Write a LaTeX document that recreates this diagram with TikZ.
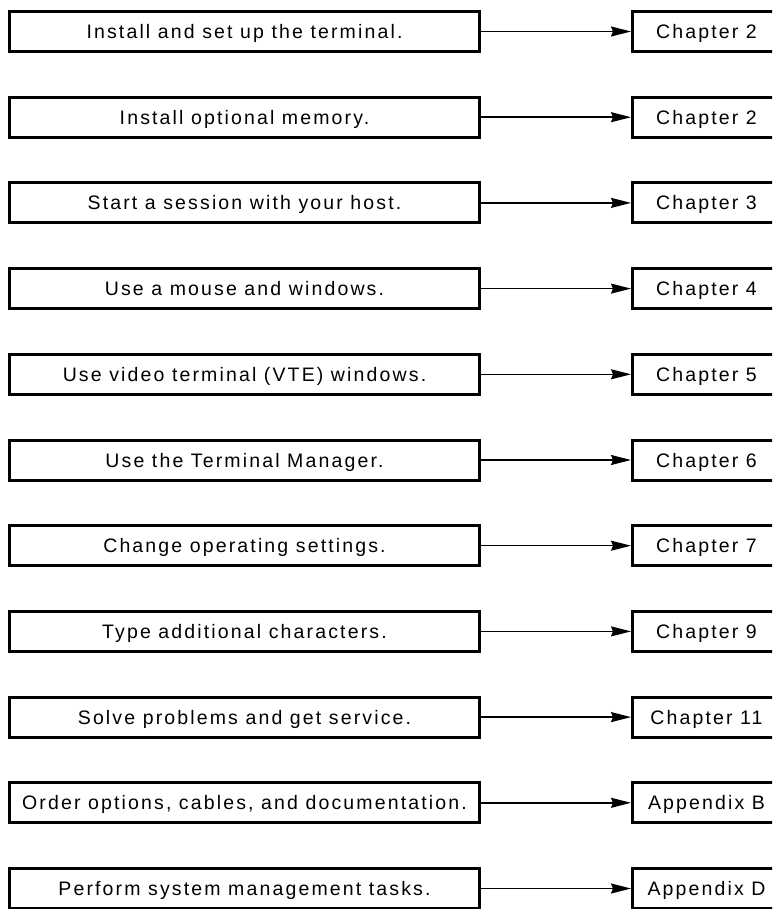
\documentclass[tikz,border=0pt]{standalone}
\usepackage{fontspec}
\setmainfont[LetterSpace=11]{Liberation Sans}
\usetikzlibrary{arrows.meta}
\tikzset{
    taskbox/.style={draw, line width=3pt, minimum width=470pt, minimum height=40pt, inner sep=0pt, text height=14pt, text depth=0pt, font=\fontsize{19.5}{22}\selectfont},
    refbox/.style={draw, line width=3pt, minimum width=148pt, minimum height=40pt, inner sep=0pt, text height=14pt, text depth=0pt, font=\fontsize{19.5}{22}\selectfont},
    pointer/.style={line width=1.5pt, -{Stealth[length=20pt,width=10pt,inset=2pt]}}
}
\begin{document}
\begin{tikzpicture}[x=1pt,y=-1pt]
                \useasboundingbox (0,0) rectangle (772,909);
                \clip (0,0) rectangle (772,909);
                \node[taskbox] (t1) at (244.5,31.5) {Install and set up the terminal.};
                \node[taskbox] (t2) at (244.5,117.2) {Install optional memory.};
                \node[taskbox] (t3) at (244.5,202.9) {Start a session with your host.};
                \node[taskbox] (t4) at (244.5,288.6) {Use a mouse and windows.};
                \node[taskbox] (t5) at (244.5,374.3) {Use video terminal (VTE) windows.};
                \node[taskbox] (t6) at (244.5,460.0) {Use the Terminal Manager.};
                \node[taskbox] (t7) at (244.5,545.7) {Change operating settings.};
                \node[taskbox] (t8) at (244.5,631.4) {Type additional characters.};
                \node[taskbox] (t9) at (244.5,717.1) {Solve problems and get service.};
                \node[taskbox] (t10) at (244.5,802.8) {Order options, cables, and documentation.};
                \node[taskbox] (t11) at (244.5,888.5) {Perform system management tasks.};
                \node[refbox] (c1) at (706.5,31.5) {Chapter 2};
                \node[refbox] (c2) at (706.5,117.2) {Chapter 2};
                \node[refbox] (c3) at (706.5,202.9) {Chapter 3};
                \node[refbox] (c4) at (706.5,288.6) {Chapter 4};
                \node[refbox] (c5) at (706.5,374.3) {Chapter 5};
                \node[refbox] (c6) at (706.5,460.0) {Chapter 6};
                \node[refbox] (c7) at (706.5,545.7) {Chapter 7};
                \node[refbox] (c8) at (706.5,631.4) {Chapter 9};
                \node[refbox] (c9) at (706.5,717.1) {Chapter 11};
                \node[refbox] (c10) at (706.5,802.8) {Appendix B};
                \node[refbox] (c11) at (706.5,888.5) {Appendix D};
                \draw[pointer] (t1) -- (c1);
                \draw[pointer] (t2) -- (c2);
                \draw[pointer] (t3) -- (c3);
                \draw[pointer] (t4) -- (c4);
                \draw[pointer] (t5) -- (c5);
                \draw[pointer] (t6) -- (c6);
                \draw[pointer] (t7) -- (c7);
                \draw[pointer] (t8) -- (c8);
                \draw[pointer] (t9) -- (c9);
                \draw[pointer] (t10) -- (c10);
                \draw[pointer] (t11) -- (c11);
\end{tikzpicture}
\end{document}
